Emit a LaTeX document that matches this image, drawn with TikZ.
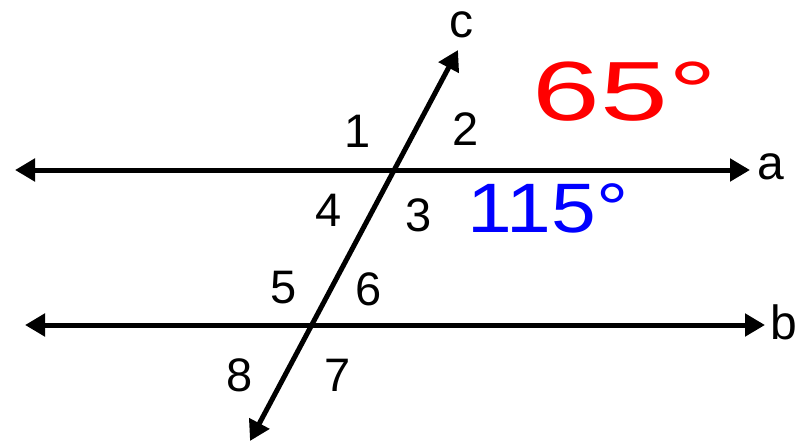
\documentclass[tikz,border=0pt]{standalone}
\usepackage{fontspec}
\setmainfont{Liberation Sans}
\usepackage{tikz}
\usetikzlibrary{arrows.meta}
\definecolor{lineColor}{RGB}{0, 0, 0}
\definecolor{redAngle}{RGB}{255, 0, 0}
\definecolor{blueAngle}{RGB}{0, 0, 255}

\begin{document}
\begin{tikzpicture}[
        x=1pt, y=-1pt,
        line/.style={draw=lineColor, line width=5pt, {Triangle[length=20pt, width=22pt]}-{Triangle[length=20pt, width=22pt]}},
        num/.style={font=\fontsize{47}{50}\selectfont, inner sep=0pt},
        lname/.style={font=\fontsize{48}{52}\selectfont, inner sep=0pt},
        red angle/.style={text=redAngle, font=\fontsize{84}{88}\selectfont, inner sep=0pt, xscale=1.45},
        blue angle/.style={text=blueAngle, font=\fontsize{70}{74}\selectfont, inner sep=0pt, xscale=1.15}
    ]
    \useasboundingbox (0,0) rectangle (800,445);
    % End points
    \coordinate (aL) at (15,170);
    \coordinate (aR) at (750,170);
    \coordinate (bL) at (25,325);
    \coordinate (bR) at (765,325);
    \coordinate (cT) at (458,50);
    \coordinate (cB) at (250,441);

    % Lines
    \path [line] (aL) -- (aR);
    \path [line] (bL) -- (bR);
    \path [line] (cB) -- (cT);

    % Line names
    \node (la) [lname] at (771,167) {a};
    \node (lb) [lname] at (784,322) {b};
    \node (lc) [lname, anchor=base] at (461,37) {c};

    % Angle numbers
    \node (n1) [num] at (358,131) {1};
    \node (n2) [num] at (466,129) {2};
    \node (n3) [num] at (419,215) {3};
    \node (n4) [num] at (329,210) {4};
    \node (n5) [num] at (284,288) {5};
    \node (n6) [num] at (369,289) {6};
    \node (n7) [num] at (338,375) {7};
    \node (n8) [num] at (240,375) {8};

    % Measures
    \node (m65) [red angle] at (625,92) {65°};
    \node (m115) [blue angle] at (548,208) {115°};
\end{tikzpicture}
\end{document}
